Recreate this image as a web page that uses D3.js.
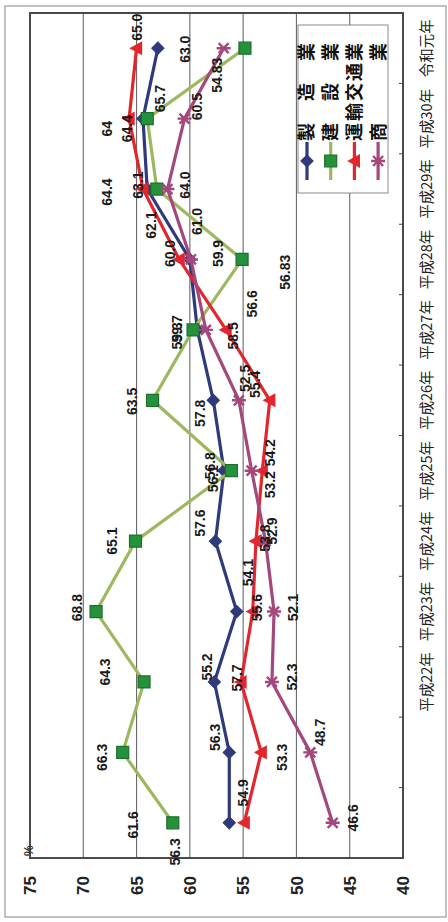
<!DOCTYPE html>
<html>
<head>
<meta charset="utf-8">
<script src="https://cdn.jsdelivr.net/npm/d3@7"></script>
<style>
  body { margin: 0; background: #fff; }
  text { font-family: "Liberation Sans", Arial, sans-serif; }
</style>
</head>
<body>
<svg id="chart" width="448" height="922"></svg>
<script>
// Categories (first two years carry no printed label)
const categories = ["", "", "平成22年", "平成23年", "平成24年", "平成25年", "平成26年",
                    "平成27年", "平成28年", "平成29年", "平成30年", "令和元年"];
const valueTicks = [75, 70, 65, 60, 55, 50, 45, 40];
const seriesNames = ["製　造　業", "建　設　業", "運輸交通業", "商　　　業"];

// Values as printed on the chart (%)
const manufacturing = ["56.3", "56.3", "57.7", "55.6", "57.6", "56.8", "57.8", "59.3", "60.0", "64.0", "64.4", "63.0"];
const construction  = ["61.6", "66.3", "64.3", "68.8", "65.1", "56.1", "63.5", "59.7", "55.1", "63.1", "64", "54.83"];
const transport     = ["54.9", "53.3", "55.2", "54.1", "53.8", "53.2", "52.5", "56.6", "61.0", "64.4", "65.7", "65.0"];
const commerce      = ["46.6", "48.7", "52.3", "52.1", "52.9", "54.2", "55.4", "58.5", "59.9", "62.1", "60.5", "56.83"];
// Points whose value is not printed
const unlabeled = [[], [8], [], []];

const series = [manufacturing, construction, transport, commerce];
const lineColors   = ["#2f3a7c", "#9db85e", "#e2262e", "#a3487c"];
const markerFill   = ["#2f3a7c", "#24923a", "#e2262e", "none"];
const markerStroke = ["#2f3a7c", "#1c6f2c", "#e2262e", "#a3487c"];
const markerPath = [
  "M0,-6L6,0L0,6L-6,0Z",
  "M-6,-6H6V6H-6Z",
  "M0,-6L6,5H-6Z",
  "M-5,-5L5,5M-5,5L5,-5M0,-7V7"
];

// Hand-placed label nudges (page pixels: right, down)
const labelNudge = [
  [[-54,29],[-14,-15],[23,-4],[20,-4],[-15,-18],[-14,-5],[-13,13],[-20,6],[-20,-6],[38,-4],[-16,10],[27,1]],
  [[-40,2],[-21,5],[-39,-10],[-19,-4],[-23,0],[-18,8],[-20,1],[-16,-1],[0,0],[-19,-4],[-40,10],[-28,27]],
  [[-1,-30],[21,5],[-34,-15],[-5,-39],[9,-3],[8,14],[-25,-22],[26,-26],[18,-38],[-36,3],[31,-20],[1,-21]],
  [[20,-5],[10,-20],[20,-5],[19,-4],[7,-10],[18,-18],[16,-16],[27,6],[27,-6],[-16,36],[13,-12],[61,224]]
];

const svg = d3.select("#chart");
const PAGE_H = 922;
// The whole chart is laid out horizontally and turned a quarter turn counter-clockwise.
const g = svg.append("g").attr("transform", `translate(0,${PAGE_H}) rotate(-90)`);

const plot = { left: 64, right: 909, top: 30, bottom: 403 };
const x = d3.scaleBand().domain(d3.range(categories.length)).range([plot.left, plot.right]);
const y = d3.scaleLinear().domain([40, 75]).range([plot.bottom, plot.top]);
const cx = i => x(i) + x.bandwidth() / 2;

// outer border
g.append("rect").attr("x", 5).attr("y", 5).attr("width", 911).attr("height", 441)
  .attr("fill", "none").attr("stroke", "#9a9a9a").attr("stroke-width", 1.2);

// gridlines
g.append("g").selectAll("line").data(valueTicks.filter(t => t !== 75 && t !== 40)).join("line")
  .attr("x1", plot.left).attr("x2", plot.right)
  .attr("y1", d => y(d)).attr("y2", d => y(d))
  .attr("stroke", "#6a6a6a").attr("stroke-width", 1.1);

// plot frame
g.append("rect").attr("x", plot.left).attr("y", plot.top)
  .attr("width", plot.right - plot.left).attr("height", plot.bottom - plot.top)
  .attr("fill", "none").attr("stroke", "#4a4a4a").attr("stroke-width", 2);

// value axis labels
g.append("g").selectAll("text").data(valueTicks).join("text")
  .attr("x", plot.left - 18).attr("y", d => y(d)).attr("dy", "0.36em")
  .attr("text-anchor", "end")
  .style("font-family", '"Liberation Sans Narrow", "Arial Narrow", "Liberation Sans", sans-serif')
  .style("font-weight", "bold").style("font-size", "17px").attr("fill", "#222")
  .text(d => d);

g.append("text").attr("x", plot.left + 2).attr("y", plot.top + 3)
  .style("font-size", "12px").style("font-weight", "bold").attr("fill", "#333").text("%");

// category ticks at band boundaries
g.append("g").selectAll("line").data(d3.range(1, categories.length)).join("line")
  .attr("x1", d => x(d)).attr("x2", d => x(d))
  .attr("y1", plot.bottom - 4).attr("y2", plot.bottom)
  .attr("stroke", "#4a4a4a").attr("stroke-width", 1);

// category labels
g.append("g").selectAll("text").data(d3.range(categories.length).filter(i => categories[i])).join("text")
  .attr("x", d => cx(d)).attr("y", plot.bottom + 24).attr("dy", "0.35em")
  .attr("text-anchor", "middle")
  .style("font-family", '"Noto Sans CJK JP", sans-serif').style("font-size", "14.5px")
  .attr("fill", "#222").text(d => categories[d]);

// lines and markers
const line = d3.line().x((d, i) => cx(i)).y(d => y(+d));
series.forEach((vals, s) => {
  g.append("path").datum(vals).attr("d", line)
    .attr("fill", "none").attr("stroke", lineColors[s]).attr("stroke-width", 3.2)
    .attr("stroke-linejoin", "round");
  g.append("g").selectAll("path").data(vals).join("path")
    .attr("transform", (d, i) => `translate(${cx(i)},${y(+d)})`)
    .attr("d", markerPath[s])
    .attr("fill", markerFill[s]).attr("stroke", markerStroke[s])
    .attr("stroke-width", s === 3 ? 2.4 : 1.2);
});

// value labels
series.forEach((vals, s) => {
  g.append("g").selectAll("text")
    .data(vals.map((v, i) => ({ v, i })).filter(d => !unlabeled[s].includes(d.i)))
    .join("text")
    .attr("x", d => cx(d.i) - labelNudge[s][d.i][1])
    .attr("y", d => y(+d.v) + labelNudge[s][d.i][0])
    .attr("dy", "0.35em").attr("text-anchor", "middle")
    .style("font-size", "14px").style("font-weight", "bold").attr("fill", "#1a1a1a")
    .text(d => d.v);
});

// legend
const lg = g.append("g");
lg.append("rect").attr("x", 729).attr("y", 298).attr("width", 168).attr("height", 90)
  .attr("fill", "#fff").attr("stroke", "#8a8a8a").attr("stroke-width", 1);
seriesNames.forEach((name, s) => {
  const yy = 307 + s * 23.7;
  lg.append("line").attr("x1", 742).attr("x2", 780).attr("y1", yy).attr("y2", yy)
    .attr("stroke", lineColors[s]).attr("stroke-width", 3.2);
  lg.append("path").attr("transform", `translate(761,${yy})`).attr("d", markerPath[s])
    .attr("fill", markerFill[s]).attr("stroke", markerStroke[s])
    .attr("stroke-width", s === 3 ? 2.4 : 1.2);
  lg.append("text").attr("x", 781).attr("y", yy).attr("dy", "0.36em")
    .style("font-family", '"Noto Sans CJK JP", sans-serif').style("font-size", "18px")
    .style("font-weight", "bold").style("letter-spacing", "2px").attr("fill", "#111")
    .text(name);
});
</script>
</body>
</html>
